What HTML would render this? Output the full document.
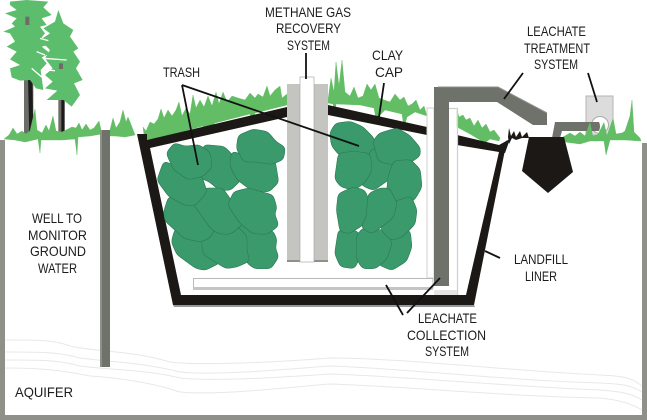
<!DOCTYPE html>
<html><head><meta charset="utf-8"><style>
html,body{margin:0;padding:0;background:#fff}
svg{display:block}
text{font-family:"Liberation Sans",sans-serif;font-size:14px;fill:#1c1c1c}
</style></head><body>
<svg width="647" height="420" viewBox="0 0 647 420" xmlns="http://www.w3.org/2000/svg">
<defs>
<filter id="r" x="-15%" y="-15%" width="130%" height="130%" color-interpolation-filters="sRGB">
<feGaussianBlur in="SourceAlpha" stdDeviation="7"/>
<feComponentTransfer result="a"><feFuncA type="linear" slope="14" intercept="-5"/></feComponentTransfer>
<feFlood flood-color="#2d7a55"/><feComposite in2="a" operator="in" result="o"/>
<feMorphology in="a" operator="erode" radius="2.2" result="e"/>
<feFlood flood-color="#3a9a6b"/><feComposite in2="e" operator="in" result="f"/>
<feMerge><feMergeNode in="o"/><feMergeNode in="f"/></feMerge>
</filter>
</defs>
<rect width="647" height="420" fill="#fff"/>
<!-- frame -->
<path d="M0,140H5V415H642V143H647V420H0Z" fill="#8f908a"/>
<!-- aquifer -->
<g fill="none" stroke="#e8e8e8" stroke-width="1">
<path d="M5,340C40,340 55,340 70,346C95,352 130,350 170,362C200,366 280,362 330,358C400,358 500,370 600,375C625,376 632,378 642,386"/>
<path d="M5,352C40,352 60,352 80,358C110,362 140,362 180,372C220,376 300,368 330,366C400,368 500,380 600,383C625,384 632,386 642,392"/>
<path d="M5,360C40,360 60,360 80,366C110,370 150,370 180,378C220,382 300,376 330,374C400,376 500,386 600,390C625,392 632,394 642,400"/>
<path d="M5,368C40,368 60,370 90,376C120,378 150,382 180,392C220,396 300,386 330,384C400,386 500,396 600,398C620,400 632,404 642,410"/>
</g>
<!-- trees -->
<g transform="scale(.3333)">
<path d="M72,50H90V240H100V410H72Z" fill="#6c6d66"/>
<path d="M84,230H97L100,410H88Z" fill="#1c1c1c"/>
<path d="M175,140H190V410H175Z" fill="#6c6d66"/>
<path d="M184,290H194V405H184Z" fill="#1c1c1c"/>
<path fill="#5cbd6c" d="M30,5 80,0 145,5 130,22 155,45 125,55 140,75 120,80 135,100 125,112 145,135 125,140 150,160 125,172 140,190 122,210 130,270 108,265 90,240 60,242 35,232 30,205 60,195 30,178 50,155 20,140 45,125 30,100 10,95 45,80 35,70 50,55 15,40 50,30 30,15Z"/>
<path fill="#5cbd6c" d="M175,30 190,70 220,90 210,110 235,145 220,155 240,185 228,205 248,240 222,250 240,285 215,320 190,300 140,300 172,272 135,265 158,245 135,225 158,205 135,175 150,150 120,120 150,100 130,85 165,65Z"/>
<path d="M76,50H88V75H76ZM177,190H189V207H177Z" fill="#6c6d66"/>
<path d="M120,115 145,122M110,155 135,165M130,175 200,180M95,205 130,235M140,210 165,212" stroke="#fff" stroke-width="4" fill="none"/>
</g>
<!-- grass -->
<g fill="#62bd64" stroke="#62bd64" stroke-width=".4">
<path d="M4,139 9,135 13,128 17,134 22,131 26,134 30,131 35,109 37,130 42,133 46,125 49,131 53,116 56,131 62,132 66,130 72,127 76,128 79,123 82,130 86,124 90,130 94,128 99,121 102,134 90,136 78,137 77,155 75,139 62,140 41,140 40,153 38,139 25,142 15,140Z"/>
<path d="M110,130 113,118 116,128 120,122 123,110 126,122 128,117 132,127 135,135 125,137 115,136 110,136Z"/>
<path d="M143,127 146,131 150,122 154,124 158,119 161,109 164,118 168,110 172,116 176,110 179,102 182,116 186,108 190,114 193,95 196,108 200,100 204,107 208,96 212,106 216,92 219,104 223,92 227,102 232,96 238,98 245,100 250,93 255,98 258,94 263,97 267,86 270,96 275,90 280,86 282,98 287,94 287,105 255,113 252,122 250,114 215,123 205,132 203,126 170,135 168,143 165,137 150,142 145,143Z"/>
<path d="M328,100 331,78 334,92 336,62 339,86 342,60 345,92 350,96 354,87 358,98 363,96 367,84 371,90 375,84 379,98 384,100 390,102 395,94 400,100 404,97 408,106 412,104 416,100 420,110 424,106 427,116 415,112 407,117 404,128 402,114 385,110 376,119 374,108 360,105 336,104 335,115 333,104 328,103Z"/>
<path d="M457,110 459,117 463,115 466,120 470,118 474,126 478,120 482,128 486,124 490,132 494,130 500,138 499,141 490,139 485,143 470,134 457,127Z"/>
<path d="M563,137 570,133 575,136 580,132 585,136 590,122 593,136 598,134 604,122 607,135 613,118 616,134 622,133 625,131 630,116 632,100 634,132 640,138 641,141 625,140 610,140 606,155 604,141 590,141 580,144 565,142Z"/>
</g>
<!-- well -->
<rect x="100" y="130" width="10" height="237" fill="#6f716b"/>
<rect x="100" y="130" width="2" height="237" fill="#8f908a"/>
<!-- gas pipe -->
<rect x="287" y="84" width="41" height="178" fill="#c4c5c0"/>
<rect x="287" y="260" width="41" height="2" fill="#8f908a"/>
<rect x="300" y="77" width="14" height="185" fill="#fff" stroke="#aaa" stroke-width=".7"/>
<!-- liner -->
<path d="M137,134H147V140L287,107V117L150,148 181,295H466L499,152 507,140 474,305H173Z" fill="#1c1816"/>
<path d="M328,105 427,127V135L328,115Z" fill="#1c1816"/>
<path d="M457,135 499,145 510,139 505,153 457,145Z" fill="#1c1816"/>
<path d="M173,305H474L475,307H174Z" fill="#999"/>
<!-- trash left -->
<g transform="translate(155,125) scale(.3333)" fill="#000" stroke="#000" stroke-width="10" stroke-linejoin="round">
<path filter="url(#r)" d="M150,65 205,70 230,95 228,130 255,160 225,190 195,190 165,165 140,155Z"/>
<path filter="url(#r)" d="M235,85 230,120 250,160 290,190 340,195 365,170 355,110 300,110 260,95Z"/>
<path filter="url(#r)" d="M255,35 295,18 335,25 360,55 385,70 380,100 350,112 300,105 270,105 250,70Z"/>
<path filter="url(#r)" d="M65,315 90,335 135,345 145,370 190,410 150,430 125,425 70,385 55,350Z"/>
<path filter="url(#r)" d="M250,305 300,322 350,322 360,345 355,370 365,395 345,425 300,425 280,410 270,370 270,335Z"/>
<path filter="url(#r)" d="M145,345 175,310 190,322 225,322 245,310 270,335 270,380 278,405 245,420 215,425 190,410 150,385Z"/>
<path filter="url(#r)" d="M45,220 85,235 120,240 175,310 160,335 135,345 90,335 35,285 32,260Z"/>
<path filter="url(#r)" d="M120,235 150,195 200,195 225,230 258,295 225,322 190,320 170,305Z"/>
<path filter="url(#r)" d="M225,240 240,205 280,195 350,215 360,250 352,265 365,300 335,322 295,320 258,290Z"/>
<path filter="url(#r)" d="M30,115 60,130 100,158 135,155 150,200 120,235 90,235 45,210 12,165Z"/>
<path filter="url(#r)" d="M40,85 60,60 90,70 130,65 160,85 165,125 140,150 100,158 60,130Z"/>
</g>
<!-- trash right -->
<g transform="translate(330,120) scale(.3333)" fill="#000" stroke="#000" stroke-width="10" stroke-linejoin="round">
<path filter="url(#r)" d="M5,40 20,15 60,10 95,25 125,55 135,80 115,105 70,100 30,100 10,75Z"/>
<path filter="url(#r)" d="M125,95 140,90 150,120 195,128 180,170 130,205 105,195 95,185 120,150Z"/>
<path filter="url(#r)" d="M135,65 150,45 200,30 235,50 265,85 265,105 235,125 190,128 150,120Z"/>
<path filter="url(#r)" d="M30,105 70,100 115,105 120,150 100,185 70,205 35,195 20,175Z"/>
<path filter="url(#r)" d="M195,128 240,125 265,150 270,200 250,235 215,250 175,225 180,170Z"/>
<path filter="url(#r)" d="M215,345 235,335 240,380 225,420 185,445 150,430 175,400 180,365Z"/>
<path filter="url(#r)" d="M30,335 70,335 85,345 80,385 80,420 70,440 35,435 20,400Z"/>
<path filter="url(#r)" d="M100,330 125,335 165,335 180,370 165,415 135,440 100,440 85,415 85,350Z"/>
<path filter="url(#r)" d="M195,250 240,235 255,270 250,310 215,345 185,355 160,330 160,310 190,285Z"/>
<path filter="url(#r)" d="M30,225 70,207 100,215 115,250 115,290 90,315 55,335 35,330 25,270Z"/>
<path filter="url(#r)" d="M120,225 150,210 175,210 195,250 185,290 160,310 125,335 100,320 115,290Z"/>
</g>
<!-- collection pipes -->
<path d="M427.5,108.5H457.5V295" fill="none" stroke="#cfcfcc" stroke-width="1.2"/>
<rect x="427" y="108" width="7" height="170" fill="#fff" stroke="#cfcfcc" stroke-width="1"/>
<path d="M193.5,278.5H433V288H193.5Z" fill="#fff" stroke="#b9b9b6" stroke-width="1"/>
<rect x="193" y="287" width="240" height="3" fill="#c4c5c0"/>
<path d="M434,290H457V295H434Z" fill="#e6e6e4"/>
<!-- leachate pipe -->
<path d="M434,87H498L547,113V125H533L497,102H449V286H434Z" fill="#6f716b"/>
<path d="M438,87H498L547,113" fill="none" stroke="#8f908a" stroke-width="1"/>
<!-- treatment -->
<rect x="586" y="96" width="27" height="39" fill="#dcdcdc" stroke="#b5b5b5" stroke-width="1"/>
<circle cx="600" cy="125" r="8.5" fill="#fff" stroke="#aaa" stroke-width="1"/>
<path d="M552,138 555,122H599Q601,126 599,131H562L560,138Z" fill="#6f716b"/>
<path d="M529,137H564L573,172 548,193 522,171Z" fill="#1c1816"/>
<path d="M508,137 509,128 511,136 514,131 516,137 520,131 522,137 527,132 529,138 522,138 516,140 512,138 509,144Z" fill="#1c1816"/>
<!-- grass over box -->
<path d="M585,136 590,122 593,136 598,134 604,122 607,135 613,118 616,134 622,133 625,137H585Z" fill="#62bd64"/>
<!-- leaders -->
<g stroke="#111" stroke-width="1.8" fill="none">
<path d="M182,85 198,165M182,85 359,146"/>
<path d="M306,53V79"/>
<path d="M384,83 379,117"/>
<path d="M523,73 504,99M588,73 597,102"/>
<path d="M485,251 500,258"/>
<path d="M386,285 403,315M440,278 407,313"/>
</g>
<!-- labels -->
<g text-anchor="start">
<text x="265" y="17" textLength="86" lengthAdjust="spacingAndGlyphs">METHANE GAS</text>
<text x="276" y="33" textLength="65" lengthAdjust="spacingAndGlyphs">RECOVERY</text>
<text x="287" y="50" textLength="43" lengthAdjust="spacingAndGlyphs">SYSTEM</text>
<text x="163" y="77" textLength="37" lengthAdjust="spacingAndGlyphs">TRASH</text>
<text x="372" y="60" textLength="31" lengthAdjust="spacingAndGlyphs">CLAY</text>
<text x="375" y="77" textLength="28" lengthAdjust="spacingAndGlyphs">CAP</text>
<text x="527" y="36" textLength="59" lengthAdjust="spacingAndGlyphs">LEACHATE</text>
<text x="524" y="53" textLength="66" lengthAdjust="spacingAndGlyphs">TREATMENT</text>
<text x="534" y="69" textLength="44" lengthAdjust="spacingAndGlyphs">SYSTEM</text>
<text x="32" y="223" textLength="50" lengthAdjust="spacingAndGlyphs">WELL TO</text>
<text x="28" y="240" textLength="59" lengthAdjust="spacingAndGlyphs">MONITOR</text>
<text x="30" y="256" textLength="56" lengthAdjust="spacingAndGlyphs">GROUND</text>
<text x="38" y="273" textLength="39" lengthAdjust="spacingAndGlyphs">WATER</text>
<text x="15" y="397" textLength="58" lengthAdjust="spacingAndGlyphs">AQUIFER</text>
<text x="514" y="264" textLength="54" lengthAdjust="spacingAndGlyphs">LANDFILL</text>
<text x="525" y="281" textLength="32" lengthAdjust="spacingAndGlyphs">LINER</text>
<text x="418" y="323" textLength="59" lengthAdjust="spacingAndGlyphs">LEACHATE</text>
<text x="407" y="340" textLength="79" lengthAdjust="spacingAndGlyphs">COLLECTION</text>
<text x="425" y="356" textLength="44" lengthAdjust="spacingAndGlyphs">SYSTEM</text>
</g>
</svg>
</body></html>
